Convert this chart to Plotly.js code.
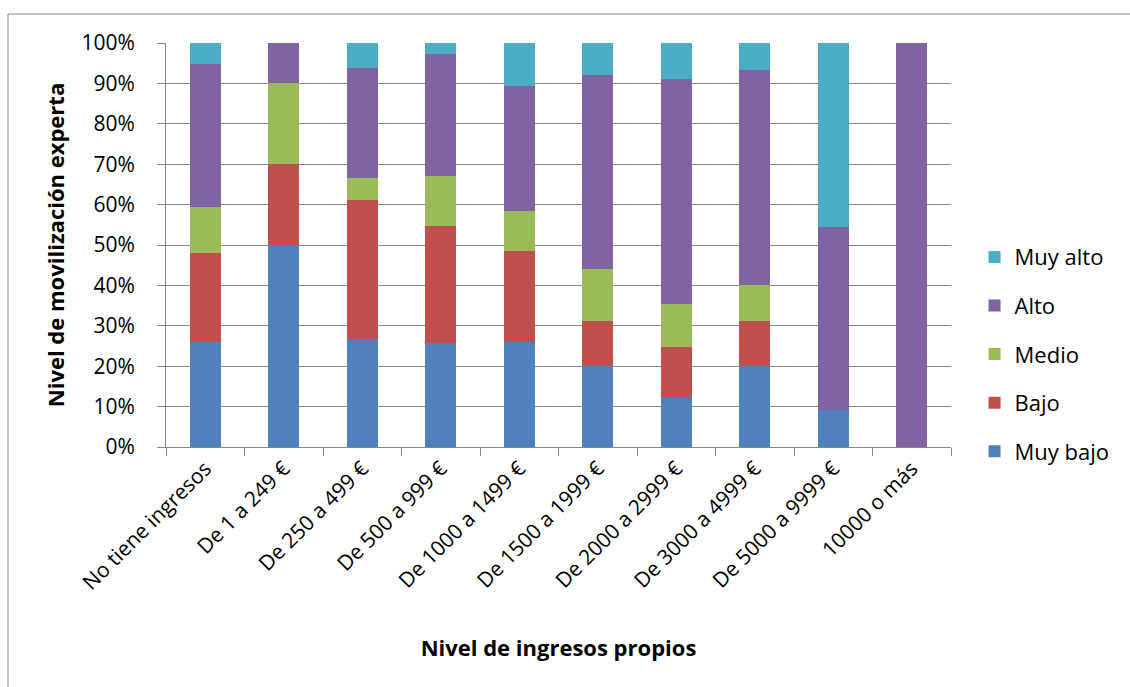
<!DOCTYPE html>
<html>
<head>
<meta charset="utf-8">
<script src="https://cdn.plot.ly/plotly-3.0.1.min.js"></script>
<style>html,body{margin:0;padding:0;background:#fff;}#chart{width:1130px;height:687px;}</style>
</head>
<body>
<div id="chart"></div>
<script>
const categories = ["No tiene ingresos", "De 1 a 249 €", "De 250 a 499 €", "De 500 a 999 €", "De 1000 a 1499 €", "De 1500 a 1999 €", "De 2000 a 2999 €", "De 3000 a 4999 €", "De 5000 a 9999 €", "10000 o más"];
const muyBajo = [25.9, 50.0, 26.7, 25.7, 26.1, 20.0, 12.4, 20.0, 9.1, 0];
const bajo    = [22.2, 20.0, 34.5, 28.9, 22.3, 11.1, 12.4, 11.1, 0, 0];
const medio   = [11.3, 20.0, 5.3, 12.6, 9.9, 13.0, 10.5, 8.9, 0, 0];
const alto    = [35.3, 10.0, 27.2, 30.2, 31.0, 47.9, 55.8, 53.3, 45.4, 100];
const muyAlto = [5.3, 0, 6.3, 2.6, 10.7, 8.0, 8.9, 6.7, 45.5, 0];
const seriesNames = ["Muy bajo", "Bajo", "Medio", "Alto", "Muy alto"];
const seriesColors = ["#4F81BD", "#C0504D", "#9BBB59", "#8064A2", "#4BACC6"];
const seriesValues = [muyBajo, bajo, medio, alto, muyAlto];
const yTickVals = [0,10,20,30,40,50,60,70,80,90,100];
const yTickText = ["0%","10%","20%","30%","40%","50%","60%","70%","80%","90%","100%"];

const font = "'Open Sans', sans-serif";
const traces = seriesNames.map((n, i) => ({
  type: "bar", name: n, x: categories, y: seriesValues[i],
  marker: {color: seriesColors[i], line: {width: 0}},
  legendgroup: n, legendrank: 5 - i, hoverinfo: "name+y"
}));

const layout = {
  width: 1130, height: 687,
  margin: {l: 166, r: 179, t: 43, b: 240},
  barmode: "stack", bargap: 0.6,
  paper_bgcolor: "#fff", plot_bgcolor: "#fff",
  font: {family: font, color: "#000", size: 19},
  showlegend: true,
  legend: {x: 1.03, xanchor: "left", y: 0.23, yanchor: "middle",
           traceorder: "grouped", tracegroupgap: 17,
           font: {size: 22, family: font}, itemwidth: 30},
  xaxis: {type: "category", tickson: "boundaries", ticks: "outside", ticklen: 8,
          tickcolor: "#868686", showline: true, linecolor: "#868686", linewidth: 1,
          tickangle: -45, tickfont: {size: 21, family: font}, automargin: false,
          title: {text: "<b>Nivel de ingresos propios</b>", font: {size: 22, family: font}, standoff: 46}},
  yaxis: {range: [0, 100], tickvals: yTickVals, ticktext: yTickText, ticks: "outside", ticklen: 8,
          tickcolor: "#868686", showline: true, linecolor: "#868686", linewidth: 1,
          showgrid: true, gridcolor: "#868686", gridwidth: 1, zeroline: false,
          tickfont: {size: 21, family: font}, ticklabelstandoff: 18, automargin: false,
          title: {text: "<b>Nivel de movilización experta</b>", font: {size: 22, family: font}, standoff: 10}},
  shapes: [{type: "rect", xref: "paper", yref: "paper",
            x0: -158/785, x1: 1.5, y0: -1, y1: 1 + 29/404,
            line: {color: "#868686", width: 1}, fillcolor: "rgba(0,0,0,0)", layer: "below"}]
};

Plotly.newPlot("chart", traces, layout, {displayModeBar: false, staticPlot: true});
</script>
</body>
</html>
